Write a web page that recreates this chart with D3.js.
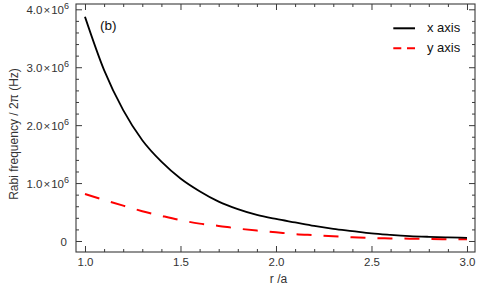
<!DOCTYPE html>
<html>
<head>
<meta charset="utf-8">
<script src="https://cdn.jsdelivr.net/npm/d3@7"></script>
<style>
  html, body { margin: 0; padding: 0; background: #fff; }
  text { font-family: "Liberation Sans", Arial, sans-serif; }
</style>
</head>
<body>
<svg id="chart" width="482" height="289"></svg>
<script>
// ---- data ----
const rValues = [1.0, 1.1, 1.2, 1.3, 1.4, 1.5, 1.6, 1.7, 1.8, 1.9, 2.0,
                 2.1, 2.2, 2.3, 2.4, 2.5, 2.6, 2.7, 2.8, 2.9, 3.0];
const xAxisRabi = [3.87e6, 2.95e6, 2.26e6, 1.74e6, 1.37e6, 1.08e6, 0.86e6, 0.68e6, 0.55e6, 0.45e6, 0.38e6,
                   0.32e6, 0.26e6, 0.21e6, 0.17e6, 0.13e6, 0.105e6, 0.085e6, 0.072e6, 0.062e6, 0.055e6];
const yAxisRabi = [0.81e6, 0.71e6, 0.61e6, 0.515e6, 0.435e6, 0.36e6, 0.30e6, 0.26e6, 0.215e6, 0.18e6, 0.15e6,
                   0.12e6, 0.10e6, 0.08e6, 0.065e6, 0.052e6, 0.045e6, 0.04e6, 0.035e6, 0.03e6, 0.028e6];
const seriesNames = ["x axis", "y axis"];
const xMajorTicks = [1.0, 1.5, 2.0, 2.5, 3.0];
const xTickLabels = ["1.0", "1.5", "2.0", "2.5", "3.0"];
const yMajorTicks = [0, 1e6, 2e6, 3e6, 4e6];
const yTickMantissa = ["0", "1.0", "2.0", "3.0", "4.0"];
const panelLabel = "(b)";
const xTitle = "r /a";
const yTitle = "Rabi frequency / 2\u03c0  (Hz)";

// ---- layout ----
const L = 76, R = 475, T = 4, B = 252;
const svg = d3.select("#chart");
const x = d3.scaleLinear().domain([0.9529, 3.0419]).range([L, R]);
const y = d3.scaleLinear().domain([-0.19e6, 4.0915e6]).range([B, T]);

const frameColor = "#3a3a3a";
const textColor = "#333";

const xMinor = d3.range(1.0, 3.0001, 0.1).map(v => +v.toFixed(2)).filter(v => !xMajorTicks.some(m => Math.abs(m - v) < 1e-6));
const yMinor = d3.range(0, 4.0001e6, 0.2e6).filter(v => !yMajorTicks.some(m => Math.abs(m - v) < 1));

const majLen = 6, minLen = 3;

function addAxis(axisGen, transform) {
  const g = svg.append("g").attr("transform", transform).call(axisGen);
  g.select(".domain").remove();
  g.selectAll(".tick line").attr("stroke", frameColor).attr("stroke-width", 1);
  return g;
}

// bottom
const bottomMajor = addAxis(d3.axisBottom(x).tickValues(xMajorTicks).tickSize(-majLen).tickPadding(6)
  .tickFormat((d, i) => xTickLabels[i]), `translate(0,${B})`);
bottomMajor.selectAll("text").attr("font-size", 11.5).attr("fill", textColor)
  .attr("font-family", "Liberation Sans, Arial, sans-serif");
addAxis(d3.axisBottom(x).tickValues(xMinor).tickSize(-minLen).tickFormat(""), `translate(0,${B})`);
// top
addAxis(d3.axisTop(x).tickValues(xMajorTicks).tickSize(-majLen).tickFormat(""), `translate(0,${T})`);
addAxis(d3.axisTop(x).tickValues(xMinor).tickSize(-minLen).tickFormat(""), `translate(0,${T})`);
// left
const leftMajor = addAxis(d3.axisLeft(y).tickValues(yMajorTicks).tickSize(-majLen).tickFormat(""), `translate(${L},0)`);
addAxis(d3.axisLeft(y).tickValues(yMinor).tickSize(-minLen).tickFormat(""), `translate(${L},0)`);
// right
addAxis(d3.axisRight(y).tickValues(yMajorTicks).tickSize(-majLen).tickFormat(""), `translate(${R},0)`);
addAxis(d3.axisRight(y).tickValues(yMinor).tickSize(-minLen).tickFormat(""), `translate(${R},0)`);

// y tick labels with scientific notation
leftMajor.selectAll(".tick").each(function(d, i) {
  const t = d3.select(this).append("text")
    .attr("x", -7).attr("dy", "0.35em")
    .attr("text-anchor", "end")
    .attr("font-size", 11.5).attr("fill", textColor);
  if (d === 0) {
    t.attr("x", -9).text(yTickMantissa[i]);
  } else {
    t.append("tspan").text(yTickMantissa[i]);
    t.append("tspan").attr("dx", 1).text("\u00d7");
    t.append("tspan").attr("dx", 1).text("10");
    t.append("tspan").attr("dy", "-0.5em").attr("font-size", 9).text(String(Math.round(Math.log10(yMajorTicks[1]))));
  }
});

// frame
svg.append("rect").attr("x", L).attr("y", T).attr("width", R - L).attr("height", B - T)
  .attr("fill", "none").attr("stroke", frameColor).attr("stroke-width", 1.1);

svg.append("clipPath").attr("id", "plotclip").append("rect")
  .attr("x", L).attr("y", T).attr("width", R - L).attr("height", B - T);

const line = d3.line().x(d => x(d[0])).y(d => y(d[1])).curve(d3.curveMonotoneX);
const plot = svg.append("g").attr("clip-path", "url(#plotclip)");

plot.append("path").datum(rValues.map((r, i) => [r, yAxisRabi[i]]))
  .attr("d", line).attr("fill", "none").attr("stroke", "#ff0000")
  .attr("stroke-width", 2).attr("stroke-dasharray", "15,12");
plot.append("path").datum(rValues.map((r, i) => [r, xAxisRabi[i]]))
  .attr("d", line).attr("fill", "none").attr("stroke", "#000")
  .attr("stroke-width", 1.8);

// panel label
svg.append("text").attr("x", 100).attr("y", 29.5).attr("font-size", 13.5).attr("fill", "#111").text(panelLabel);

// legend
const legend = [
  { name: seriesNames[0], color: "#000", dash: null, ly: 28.3, ty: 31.5 },
  { name: seriesNames[1], color: "#ff0000", dash: "8,5.7", ly: 48.3, ty: 51.5 }
];
legend.forEach(item => {
  svg.append("line").attr("x1", 393.3).attr("x2", 415).attr("y1", item.ly).attr("y2", item.ly)
    .attr("stroke", item.color).attr("stroke-width", 2)
    .attr("stroke-dasharray", item.dash);
  svg.append("text").attr("x", 427).attr("y", item.ty).attr("font-size", 13).attr("fill", "#111").text(item.name);
});

// axis titles
svg.append("text").attr("x", (L + R) / 2 + 3).attr("y", 283).attr("text-anchor", "middle")
  .attr("font-size", 12).attr("fill", textColor).text(xTitle);
svg.append("text").attr("transform", "translate(18,134) rotate(-90)").attr("text-anchor", "middle")
  .attr("font-size", 12).attr("fill", textColor).text(yTitle);
</script>
</body>
</html>
